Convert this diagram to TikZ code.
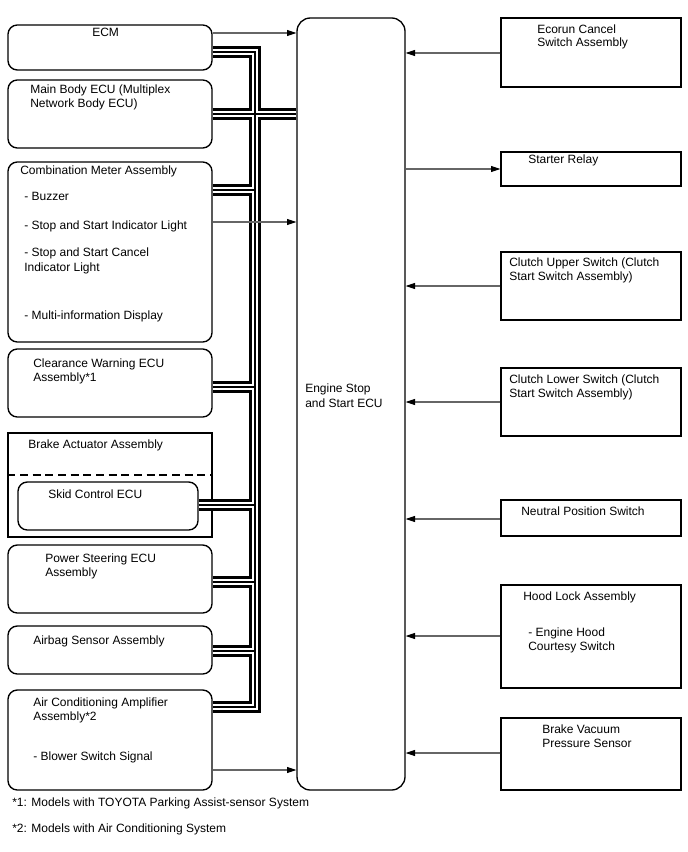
\documentclass[tikz,border=0pt]{standalone}
\usepackage{fontspec}
\setmainfont{Liberation Sans}
\usetikzlibrary{arrows.meta}
\newcommand\cablepaths{
 (ecm.east |- b1) -- (b1) -- (b8) -- (aca.east |- b8)
 (mbe.east |- b2) -- (ess.west |- b2)
 (cma.east |- b3) -- (b3)
 (cwe.east |- b4) -- (b4)
 (scu.east |- b5) -- (b5)
 (pse.east |- b6) -- (b6)
 (abs.east |- b7) -- (b7)
}
\begin{document}
\begin{tikzpicture}[x=0.75pt,y=-0.75pt,
  rbox/.style={draw, line width=1pt, rounded corners=7pt, inner sep=0},
  sbox/.style={draw, line width=1pt, inner sep=0},
  txt/.style={anchor=base west, inner sep=0, font=\fontsize{9}{11}\selectfont},
  sig/.style={draw=black!60, line width=0.8pt, -{Triangle[length=7pt,width=4.5pt,color=black]}},
]
\useasboundingbox[fill=white] (0,0) rectangle (688,852);

% left boxes
\node[rbox, minimum width=153pt, minimum height=33.75pt] (ecm) at (110,47.5) {};
\node[rbox, minimum width=153pt, minimum height=51pt] (mbe) at (110,114) {};
\node[rbox, minimum width=153pt, minimum height=135pt] (cma) at (110,252) {};
\node[rbox, minimum width=153pt, minimum height=51pt] (cwe) at (110,383) {};
\node[sbox, minimum width=153pt, minimum height=78pt] (bra) at (110,485) {};
\node[rbox, minimum width=135pt, minimum height=36pt] (scu) at (108,506) {};
\node[rbox, minimum width=153pt, minimum height=51pt] (pse) at (110,579) {};
\node[rbox, minimum width=153pt, minimum height=36pt] (abs) at (110,650) {};
\node[rbox, minimum width=153pt, minimum height=75pt] (aca) at (110,740) {};
% centre
\node[rbox, rounded corners=10pt, minimum width=81pt, minimum height=579pt] (ess) at (351,404) {};
% right boxes
\node[sbox, minimum width=135pt, minimum height=51.75pt] (ecs) at (591,52.5) {};
\node[sbox, minimum width=135pt, minimum height=25.5pt] (sr) at (591,169) {};
\node[sbox, minimum width=135pt, minimum height=51pt] (cus) at (591,286) {};
\node[sbox, minimum width=135pt, minimum height=51pt] (cls) at (591,402) {};
\node[sbox, minimum width=135pt, minimum height=27pt] (nps) at (591,518) {};
\node[sbox, minimum width=135pt, minimum height=77.25pt] (hla) at (591,636.5) {};
\node[sbox, minimum width=135pt, minimum height=54pt] (bvp) at (591,754) {};

% dashed separator in brake actuator
\coordinate (dy) at (0,475);
\draw[dashed, dash pattern=on 6pt off 3.5pt, line width=0.9pt] (bra.west |- dy) -- (bra.east |- dy);

% texts
\node[txt] (t1) at (92,37) {ECM};
\node[txt] (t2) at (30,94) {Main Body ECU (Multiplex};
\node[txt] (t3) at (30,108) {Network Body ECU)};
\node[txt] (t4) at (20,175) {Combination Meter Assembly};
\node[txt] (t5) at (24,201) {- Buzzer};
\node[txt] (t6) at (24,229) {- Stop and Start Indicator Light};
\node[txt] (t7) at (24,257) {- Stop and Start Cancel};
\node[txt] (t8) at (24,271) {Indicator Light};
\node[txt] (t9) at (24,319) {- Multi-information Display};
\node[txt] (t10) at (33,367) {Clearance Warning ECU};
\node[txt] (t11) at (33,381) {Assembly*1};
\node[txt] (t12) at (28,448) {Brake Actuator Assembly};
\node[txt] (t13) at (48,498) {Skid Control ECU};
\node[txt] (t14) at (45,562) {Power Steering ECU};
\node[txt] (t15) at (45,576) {Assembly};
\node[txt] (t16) at (33,644) {Airbag Sensor Assembly};
\node[txt] (t17) at (33,706) {Air Conditioning Amplifier};
\node[txt] (t18) at (33,720) {Assembly*2};
\node[txt] (t19) at (33,760) {- Blower Switch Signal};
\node[txt] (t20) at (305,392) {Engine Stop};
\node[txt] (t21) at (305,407) {and Start ECU};
\node[txt] (t22) at (537,34) {Ecorun Cancel};
\node[txt] (t23) at (537,47) {Switch Assembly};
\node[txt] (t24) at (528,164) {Starter Relay};
\node[txt] (t25) at (509,266) {Clutch Upper Switch (Clutch};
\node[txt] (t26) at (509,280) {Start Switch Assembly)};
\node[txt] (t27) at (509,383) {Clutch Lower Switch (Clutch};
\node[txt] (t28) at (509,397) {Start Switch Assembly)};
\node[txt] (t29) at (521,515) {Neutral Position Switch};
\node[txt] (t30) at (523,600) {Hood Lock Assembly};
\node[txt] (t31) at (528,636) {- Engine Hood};
\node[txt] (t32) at (528,650) {Courtesy Switch};
\node[txt] (t33) at (542,733) {Brake Vacuum};
\node[txt] (t34) at (542,747) {Pressure Sensor};
\node[txt] (t35) at (12,806) {*1: Models with TOYOTA Parking Assist-sensor System};
\node[txt] (t36) at (12,832) {*2: Models with Air Conditioning System};

% bus coordinates
\coordinate (b1) at (255,52);
\coordinate (b2) at (255,114);
\coordinate (b3) at (255,190);
\coordinate (b4) at (255,387);
\coordinate (b5) at (255,505);
\coordinate (b6) at (255,582);
\coordinate (b7) at (255,651);
\coordinate (b8) at (255,707);
\draw[line width=8.6pt] \cablepaths;
\draw[white, line width=4.2pt] \cablepaths;
\draw[line width=0.8pt] \cablepaths;

% signal lines
\coordinate (y1) at (0,33);
\coordinate (y2) at (0,222);
\coordinate (y3) at (0,770);
\coordinate (y4) at (0,53);
\coordinate (y5) at (0,169);
\coordinate (y6) at (0,286);
\coordinate (y7) at (0,402);
\coordinate (y8) at (0,519);
\coordinate (y9) at (0,636);
\coordinate (y10) at (0,753);
\draw[sig] (ecm.east |- y1) -- (ess.west |- y1);
\draw[sig] (cma.east |- y2) -- (ess.west |- y2);
\draw[sig] (aca.east |- y3) -- (ess.west |- y3);
\draw[sig] (ecs.west |- y4) -- (ess.east |- y4);
\draw[sig] (ess.east |- y5) -- (sr.west |- y5);
\draw[sig] (cus.west |- y6) -- (ess.east |- y6);
\draw[sig] (cls.west |- y7) -- (ess.east |- y7);
\draw[sig] (nps.west |- y8) -- (ess.east |- y8);
\draw[sig] (hla.west |- y9) -- (ess.east |- y9);
\draw[sig] (bvp.west |- y10) -- (ess.east |- y10);
\end{tikzpicture}
\end{document}
